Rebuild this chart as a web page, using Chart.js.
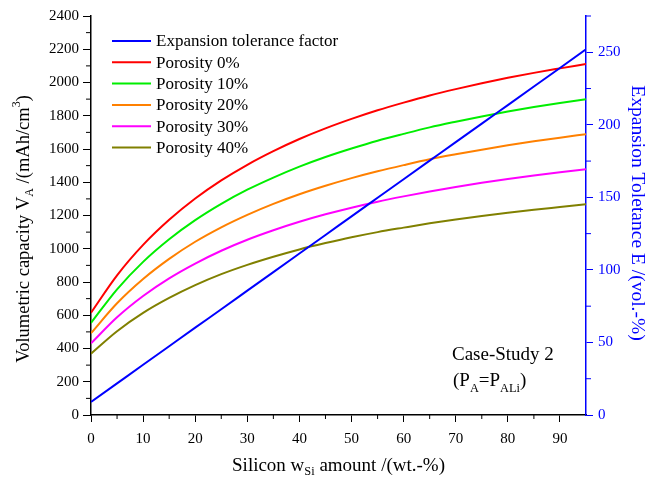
<!DOCTYPE html>
<html>
<head>
<meta charset="utf-8">
<script src="https://cdn.jsdelivr.net/npm/chart.js@4.4.0/dist/chart.umd.min.js"></script>
<style>
  html, body { margin: 0; padding: 0; background: #fff; }
</style>
</head>
<body>
<canvas id="chart" width="646" height="479"></canvas>
<script>
// Silicon amount (wt.-%)
const siAmount = [0, 5, 10, 15, 20, 25, 30, 35, 40, 45, 50, 55, 60, 65, 70, 75, 80, 85, 90, 95];
// Expansion tolerance factor (vol.-%), right axis
const expansionTolerance = [9, 21.8, 34.6, 47.4, 60.2, 72.9, 85.7, 98.5, 111.3, 124.1, 136.9, 149.7, 162.5, 175.3, 188.1, 200.8, 213.6, 226.4, 239.2, 252];
// Volumetric capacity (mAh/cm3), left axis
const porosity0 = [615, 840, 1023, 1174, 1302, 1411, 1505, 1587, 1660, 1724, 1781, 1833, 1879, 1922, 1960, 1995, 2028, 2058, 2085, 2111];
const porosity10 = [554, 756, 921, 1057, 1172, 1270, 1355, 1428, 1494, 1552, 1603, 1650, 1691, 1730, 1764, 1796, 1825, 1852, 1877, 1900];
const porosity20 = [492, 672, 818, 939, 1042, 1129, 1204, 1270, 1328, 1379, 1425, 1466, 1503, 1538, 1568, 1596, 1622, 1646, 1668, 1689];
const porosity30 = [431, 588, 716, 822, 911, 988, 1054, 1111, 1162, 1207, 1247, 1283, 1315, 1345, 1372, 1397, 1420, 1441, 1460, 1478];
const porosity40 = [369, 504, 614, 704, 781, 847, 903, 952, 996, 1034, 1069, 1100, 1127, 1153, 1176, 1197, 1217, 1235, 1251, 1267];

const serif = '"Liberation Serif", "Times New Roman", serif';

function pts(arr) {
    return siAmount.map((x, i) => ({ x: x, y: arr[i] }));
}

function line(label, arr, color, axis) {
    return {
        label: label,
        data: pts(arr),
        borderColor: color,
        backgroundColor: color,
        borderWidth: 2,
        pointRadius: 0,
        cubicInterpolationMode: 'monotone',
        yAxisID: axis
    };
}

// draw text made of runs, some sub/superscript
function drawRuns(ctx, runs, x, y, size, align) {
    let widths = runs.map(r => {
        ctx.font = (r.s ? size * 0.65 : size) + 'px ' + serif;
        return ctx.measureText(r.t).width;
    });
    let total = widths.reduce((a, b) => a + b, 0);
    let cx = align === 'center' ? x - total / 2 : x;
    runs.forEach((r, i) => {
        ctx.font = (r.s ? size * 0.65 : size) + 'px ' + serif;
        let dy = r.s === 'sub' ? size * 0.3 : (r.s === 'sup' ? -size * 0.38 : 0);
        ctx.fillText(r.t, cx, y + dy);
        cx += widths[i];
    });
}

const minorTicks = {
    id: 'minorTicks',
    afterDraw(chart) {
        const ctx = chart.ctx;
        const area = chart.chartArea;
        ctx.save();
        ctx.lineWidth = 1;
        const sx = chart.scales.x;
        ctx.strokeStyle = '#000';
        sx.ticks.forEach(t => {
            if (t.value % 10 !== 0 && t.value < 95) {
                const px = sx.getPixelForValue(t.value);
                ctx.beginPath(); ctx.moveTo(px, area.bottom); ctx.lineTo(px, area.bottom + 4); ctx.stroke();
            }
        });
        const sy = chart.scales.y;
        sy.ticks.forEach(t => {
            if (t.value % 200 !== 0) {
                const py = sy.getPixelForValue(t.value);
                ctx.beginPath(); ctx.moveTo(area.left, py); ctx.lineTo(area.left - 5, py); ctx.stroke();
            }
        });
        const sy2 = chart.scales.y2;
        ctx.strokeStyle = '#0000ff';
        sy2.ticks.forEach(t => {
            if (t.value % 50 !== 0) {
                const py = sy2.getPixelForValue(t.value);
                ctx.beginPath(); ctx.moveTo(area.right, py); ctx.lineTo(area.right + 5, py); ctx.stroke();
            }
        });
        ctx.restore();
    }
};

const textLayer = {
    id: 'textLayer',
    afterDraw(chart) {
        const ctx = chart.ctx;
        const area = chart.chartArea;
        ctx.save();
        ctx.textBaseline = 'middle';

        // legend
        ctx.lineWidth = 2;
        chart.data.datasets.forEach((ds, i) => {
            const y = 41 + i * 21.3;
            ctx.strokeStyle = ds.borderColor;
            ctx.beginPath(); ctx.moveTo(112, y); ctx.lineTo(151, y); ctx.stroke();
            ctx.fillStyle = '#000';
            ctx.font = '17px ' + serif;
            ctx.fillText(ds.label, 156, y + 1);
        });

        // left axis title
        ctx.fillStyle = '#000';
        ctx.save();
        ctx.translate(24, 229);
        ctx.rotate(-Math.PI / 2);
        drawRuns(ctx, [{ t: 'Volumetric capacity V' }, { t: 'A', s: 'sub' }, { t: ' /(mAh/cm' }, { t: '3', s: 'sup' }, { t: ')' }], 0, 0, 18.5, 'center');
        ctx.restore();

        // bottom axis title
        drawRuns(ctx, [{ t: 'Silicon w' }, { t: 'Si', s: 'sub' }, { t: ' amount /(wt.-%)' }], (area.left + area.right) / 2, 466, 19, 'center');

        // right axis title
        ctx.fillStyle = '#0000ff';
        ctx.save();
        ctx.translate(637, 213);
        ctx.rotate(Math.PI / 2);
        drawRuns(ctx, [{ t: 'Expansion Toletance E /(vol.-%)' }], 0, 0, 19.5, 'center');
        ctx.restore();

        // case label
        ctx.fillStyle = '#000';
        ctx.textBaseline = 'alphabetic';
        drawRuns(ctx, [{ t: 'Case-Study 2' }], 452, 360, 19, 'left');
        drawRuns(ctx, [{ t: '(P' }, { t: 'A', s: 'sub' }, { t: '=P' }, { t: 'ALi', s: 'sub' }, { t: ')' }], 453, 386, 19, 'left');
        ctx.restore();
    }
};

const ctx = document.getElementById('chart').getContext('2d');
const chart = new Chart(ctx, {
    type: 'line',
    data: {
        datasets: [
            line('Expansion tolerance factor', expansionTolerance, '#0000ff', 'y2'),
            line('Porosity 0%', porosity0, '#ff0000', 'y'),
            line('Porosity 10%', porosity10, '#00ee00', 'y'),
            line('Porosity 20%', porosity20, '#ff8000', 'y'),
            line('Porosity 30%', porosity30, '#ff00ff', 'y'),
            line('Porosity 40%', porosity40, '#808000', 'y')
        ]
    },
    options: {
        responsive: false,
        animation: false,
        devicePixelRatio: 1,
        layout: { padding: { top: 16, left: 0, right: 0, bottom: 0 } },
        plugins: {
            legend: { display: false },
            tooltip: { enabled: false }
        },
        scales: {
            x: {
                type: 'linear',
                min: 0,
                max: 95,
                afterFit: s => { s.height = 64; },
                ticks: {
                    stepSize: 5,
                    autoSkip: false,
                    maxRotation: 0,
                    padding: 8,
                    color: '#000',
                    font: { family: serif, size: 15 },
                    callback: v => (v % 10 === 0 && v < 95) ? v : ''
                },
                grid: {
                    drawOnChartArea: false,
                    tickLength: 7,
                    color: c => (c.tick && c.tick.value % 10 === 0) ? '#000' : 'rgba(0,0,0,0)'
                },
                border: { color: '#000', width: 1.5 }
            },
            y: {
                position: 'left',
                min: 0,
                max: 2400,
                afterFit: s => { s.width = 91; },
                ticks: {
                    stepSize: 100,
                    autoSkip: false,
                    padding: 4,
                    color: '#000',
                    font: { family: serif, size: 15 },
                    callback: v => v % 200 === 0 ? v : ''
                },
                grid: {
                    drawOnChartArea: false,
                    tickLength: 8,
                    color: c => (c.tick && c.tick.value % 200 === 0) ? '#000' : 'rgba(0,0,0,0)'
                },
                border: { color: '#000', width: 1.5 }
            },
            y2: {
                position: 'right',
                min: 0,
                max: 275,
                afterFit: s => { s.width = 60; },
                ticks: {
                    stepSize: 25,
                    autoSkip: false,
                    padding: 5,
                    color: '#0000ff',
                    font: { family: serif, size: 15 },
                    callback: v => v % 50 === 0 ? v : ''
                },
                grid: {
                    drawOnChartArea: false,
                    tickLength: 7,
                    color: c => (c.tick && c.tick.value % 50 === 0) ? '#0000ff' : 'rgba(0,0,0,0)'
                },
                border: { color: '#0000ff', width: 1.5 }
            }
        }
    },
    plugins: [minorTicks, textLayer]
});
</script>
</body>
</html>
